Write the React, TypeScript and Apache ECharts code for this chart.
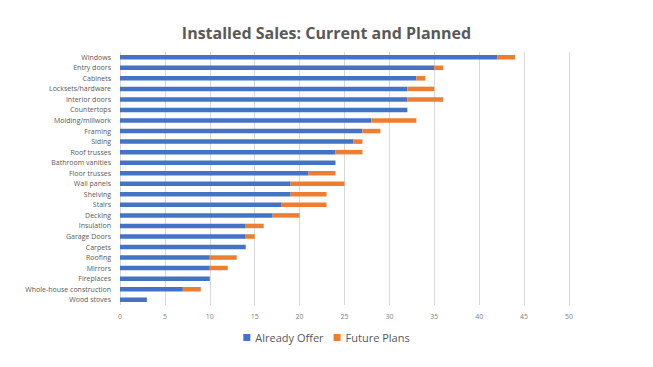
import React, { useEffect, useRef } from "react";
import * as echarts from "echarts";

const categories = [
  "Windows", "Entry doors", "Cabinets", "Locksets/hardware", "Interior doors",
  "Countertops", "Molding/millwork", "Framing", "Siding", "Roof trusses",
  "Bathroom vanities", "Floor trusses", "Wall panels", "Shelving", "Stairs",
  "Decking", "Insulation", "Garage Doors", "Carpets", "Roofing", "Mirrors",
  "Fireplaces", "Whole-house construction", "Wood stoves",
];
const alreadyOffer = [42, 35, 33, 32, 32, 32, 28, 27, 26, 24, 24, 21, 19, 19, 18, 17, 14, 14, 14, 10, 10, 10, 7, 3];
const futurePlans = [2, 1, 1, 3, 4, 0, 5, 2, 1, 3, 0, 3, 6, 4, 5, 3, 2, 1, 0, 3, 2, 0, 2, 0];
const xTicks = [0, 5, 10, 15, 20, 25, 30, 35, 40, 45, 50];

export default function App() {
  const ref = useRef<HTMLDivElement>(null);
  useEffect(() => {
    if (!ref.current) return;
    const chart = echarts.init(ref.current, undefined, { renderer: "svg" });
    const font = "Open Sans, Noto Sans, sans-serif";
    chart.setOption({
      animation: false,
      title: {
        text: "Installed Sales: Current and Planned",
        left: "center",
        top: 20,
        textStyle: { fontFamily: font, fontSize: 16, fontWeight: "bold", color: "#595959" },
      },
      legend: {
        bottom: 19,
        left: "center",
        itemWidth: 7,
        itemHeight: 7,
        itemGap: 10,
        icon: "rect",
        textStyle: { fontFamily: font, fontSize: 11, color: "#595959" },
        data: ["Already Offer", "Future Plans"],
      },
      grid: { left: 120, right: 84, top: 52, bottom: 62, containLabel: false },
      xAxis: {
        type: "value",
        min: xTicks[0],
        max: xTicks[xTicks.length - 1],
        interval: 5,
        axisLine: { show: false },
        axisTick: { show: false },
        axisLabel: { fontFamily: font, fontSize: 7, color: "#7f7f7f", margin: 8 },
        splitLine: { show: true, lineStyle: { color: "#d9d9d9", width: 1 } },
      },
      yAxis: {
        type: "category",
        data: categories,
        inverse: true,
        axisLine: { show: false },
        axisTick: { show: false },
        axisLabel: { fontFamily: font, fontSize: 7, color: "#595959", margin: 9 },
      },
      series: [
        {
          name: "Already Offer",
          type: "bar",
          stack: "total",
          data: alreadyOffer,
          barWidth: 4.5,
          itemStyle: { color: "#4472C4" },
        },
        {
          name: "Future Plans",
          type: "bar",
          stack: "total",
          data: futurePlans,
          barWidth: 4.5,
          itemStyle: { color: "#ED7D31" },
        },
      ],
    });
    return () => chart.dispose();
  }, []);
  return <div ref={ref} style={{ width: 653, height: 367, position: "absolute", left: 0, top: 0 }} />;
}
